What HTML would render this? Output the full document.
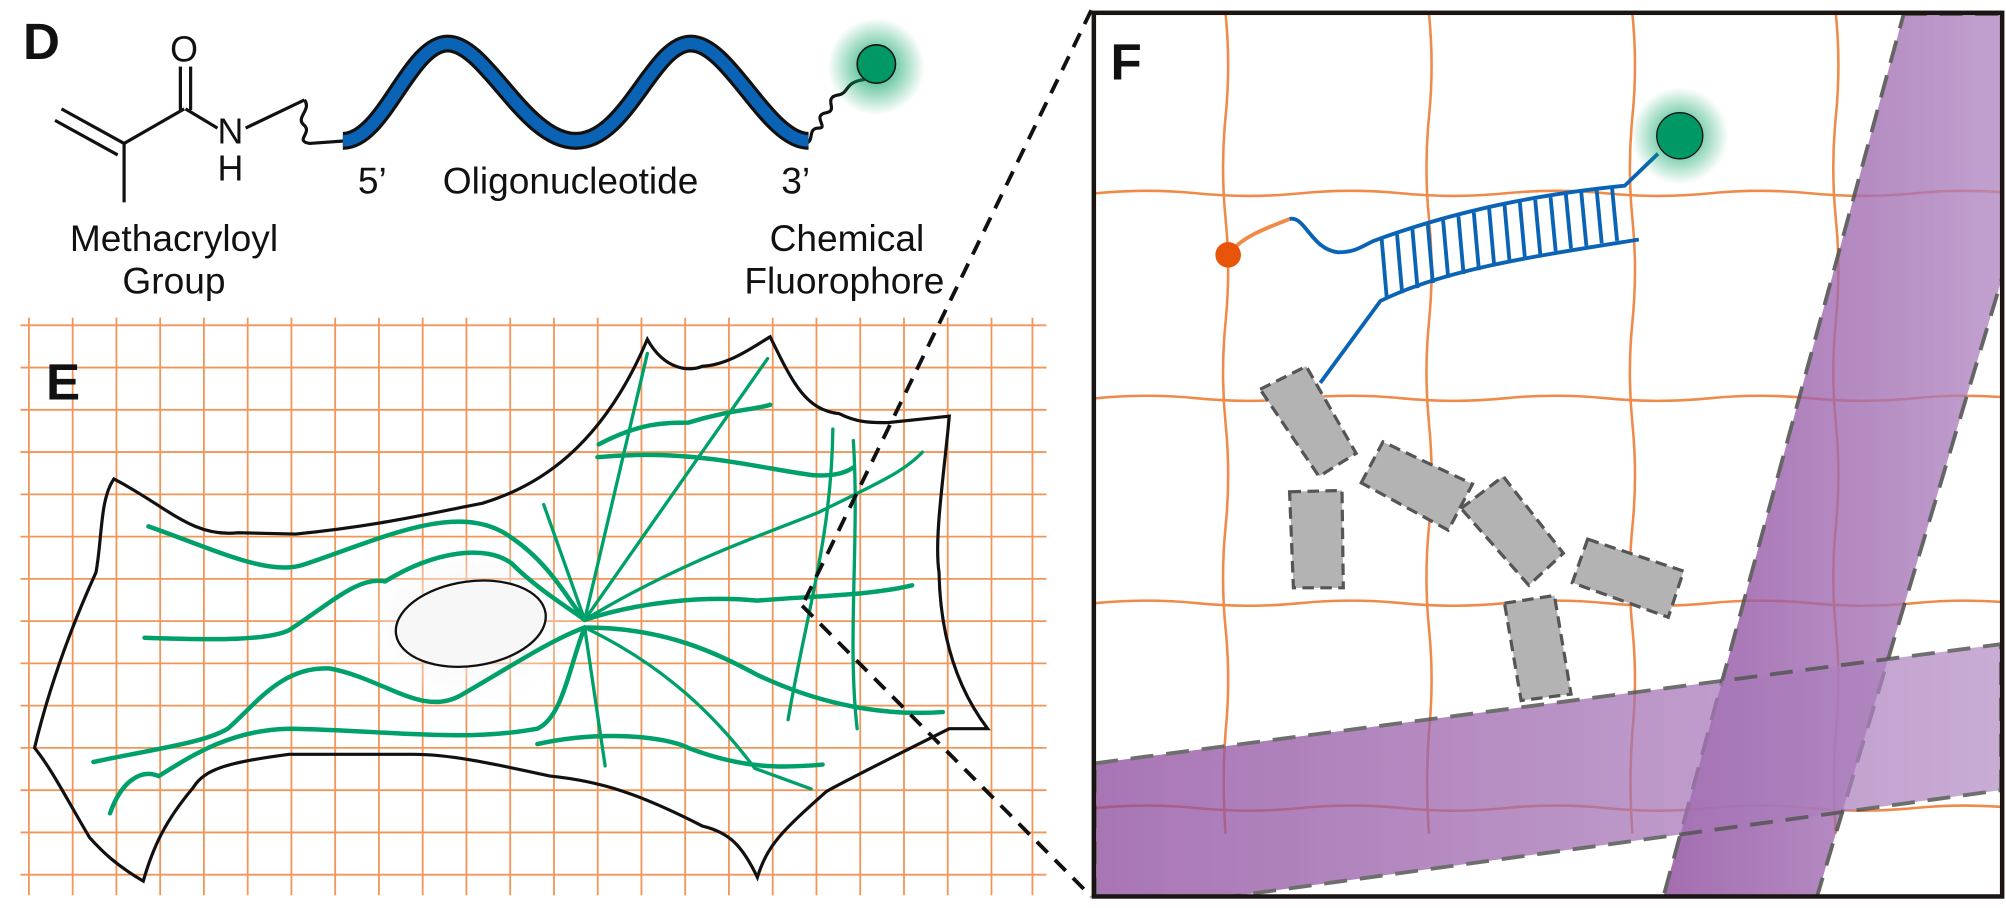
<!DOCTYPE html>
<html><head><meta charset="utf-8"><style>html,body{margin:0;padding:0;background:#fff}svg{display:block}</style></head>
<body>
<svg width="2006" height="908" viewBox="0 0 1568 709" preserveAspectRatio="none" xmlns="http://www.w3.org/2000/svg" font-family="'Liberation Sans', sans-serif">
<defs>
<radialGradient id="glow"><stop offset="0" stop-color="#00a060" stop-opacity="0.9"/><stop offset="0.5" stop-color="#00a060" stop-opacity="0.45"/><stop offset="1" stop-color="#00a060" stop-opacity="0"/></radialGradient>
<radialGradient id="nuc"><stop offset="0" stop-color="#e8e8e8"/><stop offset="1" stop-color="#fff" stop-opacity="0"/></radialGradient>
<linearGradient id="pb" x1="0" y1="0" x2="1" y2="0"><stop offset="0" stop-color="#8e4c9e" stop-opacity="0.9"/><stop offset="1" stop-color="#b38cc4" stop-opacity="0.85"/></linearGradient>
<clipPath id="fclip"><rect x="856" y="11" width="708" height="688"/></clipPath>
</defs>

<!-- Panel D -->
<text x="18" y="46" font-size="40" font-weight="bold" fill="#111">D</text>
<g stroke="#111" stroke-width="2.5" fill="none">
<line x1="97" y1="112" x2="48" y2="85"/><line x1="92" y1="121" x2="43" y2="94"/>
<line x1="97" y1="112" x2="97" y2="158"/>
<line x1="97" y1="112" x2="144" y2="85"/>
<line x1="141" y1="52" x2="141" y2="86"/><line x1="149" y1="52" x2="149" y2="86"/>
<line x1="145" y1="85" x2="170" y2="100"/>
<line x1="192" y1="100" x2="238" y2="78"/>
<path d="M238,78 c6,8 -8,14 0,20 c6,6 -8,12 4,14 l28,-2"/>
<path d="M628,112 c10,0 2,-12 12,-12 c8,0 -6,-10 6,-12 c10,-2 -4,-12 10,-14 c8,-2 4,-10 20,-12"/>
</g>
<path d="M268,110 C300,110 320,34 350,34 C380,34 410,110 450,110 C490,110 510,34 540,34 C570,34 600,110 632,110" stroke="#111" stroke-width="14" fill="none"/>
<path d="M268,110 C300,110 320,34 350,34 C380,34 410,110 450,110 C490,110 510,34 540,34 C570,34 600,110 632,110" stroke="#0b63b5" stroke-width="9" fill="none"/>
<text x="133" y="48" font-size="28" fill="#111">O</text>
<text x="170" y="112" font-size="28" fill="#111">N</text>
<text x="170" y="141" font-size="28" fill="#111">H</text>
<circle cx="685" cy="52" r="38" fill="url(#glow)"/>
<circle cx="685" cy="50" r="15" fill="#009966" stroke="#111" stroke-width="1.2"/>
<g font-size="29" fill="#111" text-anchor="middle">
<text x="291" y="151">5’</text><text x="446" y="151">Oligonucleotide</text><text x="622" y="151">3’</text>
<text x="136" y="196">Methacryloyl</text><text x="136" y="229">Group</text>
<text x="662" y="196">Chemical</text><text x="660" y="229">Fluorophore</text>
</g>

<!-- Panel E grid -->
<g stroke="#f08a48" stroke-width="1.4" opacity="0.9">
<line x1="22.6" y1="248" x2="22.6" y2="699"/><line x1="56.8" y1="248" x2="56.8" y2="699"/><line x1="91" y1="248" x2="91" y2="699"/><line x1="125.2" y1="248" x2="125.2" y2="699"/><line x1="159.4" y1="248" x2="159.4" y2="699"/><line x1="193.6" y1="248" x2="193.6" y2="699"/><line x1="227.8" y1="248" x2="227.8" y2="699"/><line x1="262" y1="248" x2="262" y2="699"/><line x1="296.2" y1="248" x2="296.2" y2="699"/><line x1="330.4" y1="248" x2="330.4" y2="699"/><line x1="364.6" y1="248" x2="364.6" y2="699"/><line x1="398.8" y1="248" x2="398.8" y2="699"/><line x1="433" y1="248" x2="433" y2="699"/><line x1="467.2" y1="248" x2="467.2" y2="699"/><line x1="501.4" y1="248" x2="501.4" y2="699"/><line x1="535.6" y1="248" x2="535.6" y2="699"/><line x1="569.8" y1="248" x2="569.8" y2="699"/><line x1="604" y1="248" x2="604" y2="699"/><line x1="638.2" y1="248" x2="638.2" y2="699"/><line x1="672.4" y1="248" x2="672.4" y2="699"/><line x1="706.6" y1="248" x2="706.6" y2="699"/><line x1="740.8" y1="248" x2="740.8" y2="699"/><line x1="775" y1="248" x2="775" y2="699"/><line x1="807" y1="248" x2="807" y2="699"/>
<line x1="16" y1="254" x2="818" y2="254"/><line x1="16" y1="287" x2="818" y2="287"/><line x1="16" y1="320" x2="818" y2="320"/><line x1="16" y1="353" x2="818" y2="353"/><line x1="16" y1="386" x2="818" y2="386"/><line x1="16" y1="419" x2="818" y2="419"/><line x1="16" y1="452" x2="818" y2="452"/><line x1="16" y1="485" x2="818" y2="485"/><line x1="16" y1="518" x2="818" y2="518"/><line x1="16" y1="551" x2="818" y2="551"/><line x1="16" y1="584" x2="818" y2="584"/><line x1="16" y1="617" x2="818" y2="617"/><line x1="16" y1="650" x2="818" y2="650"/><line x1="16" y1="683" x2="818" y2="683"/>
</g>
<text x="36" y="312" font-size="40" font-weight="bold" fill="#111">E</text>
<ellipse cx="368" cy="487" rx="95" ry="70" fill="url(#nuc)"/>
<path d="M89,374 C130,395 150,420 186,416 L231,417 C300,410 340,400 377,393 C420,380 470,350 506,265 C520,290 540,290 549,286 C570,285 590,270 602,263 C620,300 630,320 656,323 C670,330 680,330 694,330 L742,325 C738,370 730,420 734,447 C735,500 750,540 772,569 L742,569 C700,590 660,610 646,618 C610,650 600,660 592,685 C580,660 570,650 549,645 C500,620 470,610 430,606 C380,595 350,589 323,589 L226,589 C180,595 160,600 151,615 C130,640 120,660 112,688 C90,675 80,665 70,654 C50,620 40,600 27,584 C40,530 60,480 75,447 C80,420 78,390 89,374 Z" fill="none" stroke="#111" stroke-width="2.5"/>
<ellipse cx="368" cy="487" rx="59" ry="33" fill="#f7f7f7" stroke="#111" stroke-width="1.8" transform="rotate(-8 368 487)"/>
<g stroke="#00a06a" fill="none" stroke-linecap="round">
<g stroke-width="3.5">
<path d="M116,411 C170,430 210,450 237,441 C300,420 360,390 400,420 C430,440 445,470 457,484"/>
<path d="M113,498 C170,500 210,500 226,492 C260,470 280,450 301,454 C340,430 380,425 400,440 C420,460 445,475 457,484"/>
<path d="M73,595 C120,585 160,580 178,569 C200,550 220,520 258,522 C300,530 330,560 360,543 C400,520 430,500 457,490"/>
<path d="M86,635 C95,610 110,600 124,606 C150,590 180,570 226,569 C300,570 360,580 420,569 C440,560 445,520 457,490"/>
<path d="M420,581 C470,570 520,575 538,584 C580,600 610,600 643,597"/>
<path d="M468,347 C500,330 520,330 538,330 C570,320 590,320 602,316"/>
<path d="M467,357 C540,350 590,365 635,371 C650,372 660,370 667,365"/>
<path d="M457,484 C500,470 550,465 592,469 C640,465 680,465 713,457"/>
<path d="M457,490 C520,490 560,510 592,527 C630,545 680,560 737,556"/>
</g>
<g stroke-width="2.6">
<line x1="457" y1="484" x2="506" y2="276"/>
<line x1="457" y1="484" x2="600" y2="280"/>
<path d="M457,484 C530,440 590,420 640,400 C680,380 705,370 721,353"/>
<path d="M457,490 C520,520 560,560 590,600 L634,616"/>
<line x1="457" y1="490" x2="473" y2="598"/>
<line x1="457" y1="484" x2="425" y2="394"/>
<path d="M651,335 C650,420 630,480 616,562"/>
<path d="M667,344 C672,420 662,500 670,569"/>
</g>
</g>

<!-- dashed zoom lines -->
<g stroke="#111" stroke-width="3" stroke-dasharray="12,8" fill="none">
<line x1="853" y1="8" x2="627" y2="473"/>
<line x1="627" y1="473" x2="853" y2="700"/>
</g>

<!-- Panel F -->
<rect x="856" y="11" width="708" height="688" fill="#fff"/>
<g clip-path="url(#fclip)">
<g stroke="#f08a48" stroke-width="2" fill="none">
<path d="M958,11 q4,40 0,80 q-4,40 0,80 q4,40 0,80 q-4,40 0,80 q4,40 0,80 q-4,40 0,80 q4,40 0,80 q-3,40 0,80"/>
<path d="M1117,11 q4,40 0,80 q-4,40 0,80 q4,40 0,80 q-4,40 0,80 q4,40 0,80 q-4,40 0,80 q4,40 0,80 q-3,40 0,80"/>
<path d="M1276,11 q4,40 0,80 q-4,40 0,80 q4,40 0,80 q-4,40 0,80 q4,40 0,80 q-4,40 0,80 q4,40 0,80 q-3,40 0,80"/>
<path d="M1435,11 q4,40 0,80 q-4,40 0,80 q4,40 0,80 q-4,40 0,80 q4,40 0,80 q-4,40 0,80 q4,40 0,80 q-3,40 0,80"/>
<path d="M856,151 q40,-4 80,0 q40,4 80,0 q40,-4 80,0 q40,4 80,0 q40,-4 80,0 q40,4 80,0 q40,-4 80,0 q40,4 80,0 q40,-4 80,0"/>
<path d="M856,311 q40,-4 80,0 q40,4 80,0 q40,-4 80,0 q40,4 80,0 q40,-4 80,0 q40,4 80,0 q40,-4 80,0 q40,4 80,0 q40,-4 80,0"/>
<path d="M856,471 q40,-4 80,0 q40,4 80,0 q40,-4 80,0 q40,4 80,0 q40,-4 80,0 q40,4 80,0 q40,-4 80,0 q40,4 80,0 q40,-4 80,0"/>
<path d="M856,631 q40,-4 80,0 q40,4 80,0 q40,-4 80,0 q40,4 80,0 q40,-4 80,0 q40,4 80,0 q40,-4 80,0 q40,4 80,0 q40,-4 80,0"/>
</g>
<g stroke="#0b63b5" stroke-width="3" fill="none">
<path d="M1008,171 C1020,168 1025,195 1046,197 C1060,197 1065,192 1074,188 C1150,160 1220,150 1270,145 L1296,120"/>
<path d="M1281,187 C1200,200 1130,210 1079,235 L1032,299"/>
<line x1="1080" y1="187" x2="1084" y2="233"/><line x1="1092" y1="183" x2="1096" y2="229"/><line x1="1104" y1="179" x2="1108" y2="225"/><line x1="1116" y1="175" x2="1120" y2="221"/><line x1="1128" y1="172" x2="1132" y2="217"/><line x1="1140" y1="169" x2="1144" y2="214"/><line x1="1152" y1="166" x2="1156" y2="211"/><line x1="1164" y1="163" x2="1168" y2="208"/><line x1="1176" y1="160" x2="1180" y2="205"/><line x1="1188" y1="158" x2="1192" y2="202"/><line x1="1200" y1="156" x2="1204" y2="199"/><line x1="1212" y1="154" x2="1216" y2="196"/><line x1="1224" y1="152" x2="1228" y2="194"/><line x1="1236" y1="150" x2="1240" y2="192"/><line x1="1248" y1="148" x2="1252" y2="190"/><line x1="1260" y1="146" x2="1264" y2="188"/>
</g>
<path d="M960,199 C970,185 990,178 1008,171" stroke="#f08a48" stroke-width="3" fill="none"/>
<circle cx="960" cy="199" r="10" fill="#e8540a"/>
<circle cx="1313" cy="106" r="38" fill="url(#glow)"/>
<circle cx="1313" cy="106" r="18" fill="#009966" stroke="#111" stroke-width="1"/>
<g fill="#b3b3b3" stroke="#555" stroke-width="2.5" stroke-dasharray="9,5">
<polygon points="985,304 1021,286 1060,354 1031,372"/>
<polygon points="1064,377 1081,345 1151,378 1132,414"/>
<polygon points="1008,384 1049,383 1050,459 1011,459"/>
<polygon points="1142,397 1175,372 1222,432 1195,457"/>
<polygon points="1241,421 1316,446 1304,482 1229,455"/>
<polygon points="1176,471 1215,465 1228,542 1189,547"/>
</g>
<g stroke="#555" stroke-width="3" stroke-dasharray="18,10">
<polygon points="1488,11 1600,11 1600,100 1420,701 1300,701" fill="url(#pb)" opacity="0.9"/>
<polygon points="856,596 1564,503 1564,617 955,701 856,701" fill="url(#pb)" opacity="0.85"/>
</g>
</g>
<rect x="855" y="10" width="710" height="690" fill="none" stroke="#1a1412" stroke-width="3.5"/>
<text x="868" y="62" font-size="40" font-weight="bold" fill="#111">F</text>
</svg>
</body></html>
